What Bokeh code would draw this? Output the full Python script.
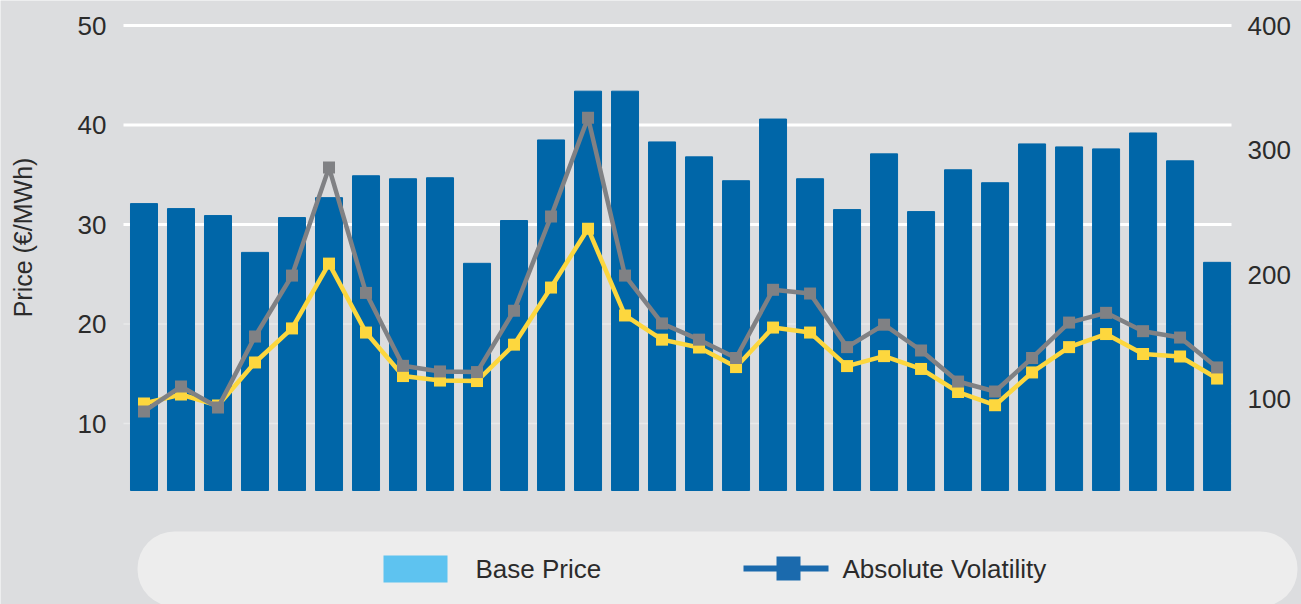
import math
from bokeh.plotting import figure
from bokeh.models import Range1d, LinearAxis, FixedTicker, BoxAnnotation, Label
from bokeh.embed import file_html
from bokeh.resources import INLINE

# ---- data ----
periods = list(range(1, 31))
base_price = [32.1, 31.6, 30.9, 27.2, 30.7, 32.7, 34.9, 34.6, 34.7, 26.1,
              30.4, 38.5, 43.4, 43.4, 38.3, 36.8, 34.4, 40.6, 34.6, 31.5,
              37.1, 31.3, 35.5, 34.2, 38.1, 37.8, 37.6, 39.2, 36.4, 26.2]
volatility_grey = [90.4, 110.4, 93.6, 150.5, 199.4, 286.0, 185.5, 127.0, 122.5, 122.0,
                   171.2, 246.8, 326.0, 199.4, 161.0, 148.0, 133.3, 188.0, 185.0, 142.0,
                   160.0, 139.3, 114.4, 106.4, 133.3, 161.7, 169.5, 154.8, 149.7, 125.7]
volatility_yellow = [96.8, 104.0, 95.2, 129.7, 157.0, 209.0, 153.7, 118.8, 115.2, 114.8,
                     144.0, 189.8, 237.0, 167.4, 148.0, 141.7, 126.0, 157.7, 153.7, 126.8,
                     134.8, 124.5, 106.0, 95.4, 121.7, 142.0, 152.5, 136.5, 134.5, 116.8]
left_ticks = [10, 20, 30, 40, 50]
right_ticks = [100, 200, 300, 400]
y_title = "Price (€/MWh)"
legend_labels = ["Base Price", "Absolute Volatility"]

BG = "#DCDDDF"
BAR = "#0066A8"
GREY = "#808184"
YELLOW = "#FDD73E"
TXT = "#2B2B2B"
FONT = "Liberation Sans"

W, H = 1301, 604
# chart area in pixels (bars/lines); the frame itself covers the whole canvas
CL, CR, CT, CB = 123, 1231, 25, 490
X0, X1c = 0.446, 30.39          # x values at CL / CR
Y0c, Y1c = 3.27, 50.0           # left values at CB / CT
V0c, V1c = 27.0, 400.0          # right values at CB / CT

kx = (CR - CL) / (X1c - X0)
ky = (CB - CT) / (Y1c - Y0c)
kv = (CB - CT) / (V1c - V0c)

def px(xp):
    return X0 + (xp - CL) / kx

def py(yp):
    return Y1c - (yp - CT) / ky

def pv(yp):
    return V1c - (yp - CT) / kv

p = figure(width=W, height=H, output_backend="svg", toolbar_location=None,
           x_range=Range1d(px(0), px(W)), y_range=Range1d(py(H), py(0)),
           min_border=0, min_border_left=0, min_border_right=0, min_border_top=0,
           min_border_bottom=0, y_axis_location=None, x_axis_location=None)
p.extra_y_ranges = {"vol": Range1d(pv(H), pv(0))}
p.background_fill_color = BG
p.border_fill_color = BG
p.outline_line_color = None
p.grid.visible = False

# horizontal grid lines across the chart area
bright = [t for t in left_ticks if t >= 30]
faint = [t for t in left_ticks if t < 30]
p.segment(x0=[X0] * len(faint), x1=[X1c] * len(faint), y0=faint, y1=faint,
          line_color="#E8E9EA", line_width=1.5)
p.segment(x0=[X0] * len(bright), x1=[X1c] * len(bright), y0=bright, y1=bright,
          line_color="white", line_width=3)

def style_axis(ax, standoff):
    ax.major_label_text_font = FONT
    ax.major_label_text_font_size = "26px"
    ax.major_label_text_color = TXT
    ax.major_label_standoff = standoff
    ax.axis_line_color = None
    ax.major_tick_line_color = None
    ax.minor_tick_line_color = None

la = LinearAxis(ticker=FixedTicker(ticks=left_ticks), fixed_location=X0)
style_axis(la, 11)
p.add_layout(la, "left")

ra = LinearAxis(y_range_name="vol", ticker=FixedTicker(ticks=right_ticks),
                fixed_location=X1c)
style_axis(ra, 10)
p.add_layout(ra, "right")

p.add_layout(Label(x=px(22), y=py(237), text=y_title, angle=math.pi / 2,
                   text_align="center", text_baseline="middle", text_font=FONT,
                   text_font_size="25px", text_color=TXT))

p.vbar(x=periods, top=base_price, bottom=Y0c, width=0.73, color=BAR)

p.line(periods, volatility_yellow, y_range_name="vol", line_color=YELLOW, line_width=4.5)
p.scatter(periods, volatility_yellow, y_range_name="vol", marker="square", size=12,
          fill_color=YELLOW, line_color=None)
p.line(periods, volatility_grey, y_range_name="vol", line_color=GREY, line_width=4.5)
p.scatter(periods, volatility_grey, y_range_name="vol", marker="square", size=12,
          fill_color=GREY, line_color=None)

# ---- legend strip ----
p.add_layout(BoxAnnotation(left=px(137), right=px(1297), top=py(531), bottom=py(606),
                           fill_color="#EDEDED", fill_alpha=1, line_color=None,
                           border_radius=37))
p.add_layout(BoxAnnotation(left=px(383), right=px(447), top=py(555), bottom=py(582),
                           fill_color="#5EC3F0", fill_alpha=1, line_color=None))
p.add_layout(BoxAnnotation(left=px(743), right=px(828), top=py(565), bottom=py(571),
                           fill_color="#1B6AAD", fill_alpha=1, line_color=None))
p.add_layout(BoxAnnotation(left=px(776), right=px(800), top=py(556), bottom=py(580),
                           fill_color="#1B6AAD", fill_alpha=1, line_color=None))
for lab, xp in zip(legend_labels, [475, 842]):
    p.add_layout(Label(x=px(xp), y=py(568), text=lab, text_baseline="middle",
                       text_align="left", text_font=FONT, text_font_size="26px",
                       text_color=TXT))

open("out.html", "w").write(file_html(p, INLINE))
